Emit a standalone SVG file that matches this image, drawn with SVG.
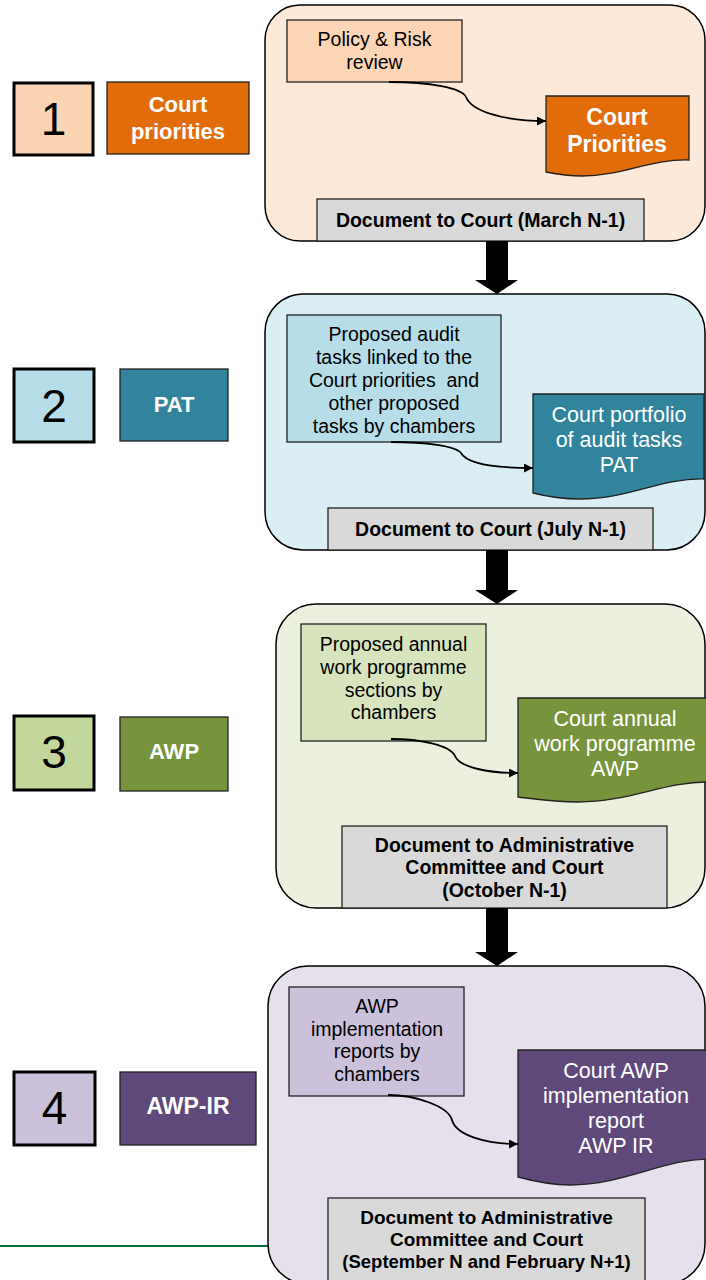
<svg xmlns="http://www.w3.org/2000/svg" width="706" height="1280" viewBox="0 0 706 1280">
  <defs>
    <marker id="arrow" viewBox="0 0 10 10" refX="10" refY="5" markerWidth="10" markerHeight="9" markerUnits="userSpaceOnUse" orient="auto">
      <path d="M0,0 L10,5 L0,10 Z" fill="#000"/>
    </marker>
    <style>
      text { font-family: "Liberation Sans", Arial, sans-serif; text-anchor: middle; }
      .panel { stroke: #000; stroke-width: 1.5; }
      .box { stroke: #222; stroke-width: 1.3; }
      .num { stroke: #000; stroke-width: 3; }
      .tag { stroke: #222; stroke-width: 1.3; }
      .docbox { fill: #D9D9D9; stroke: #222; stroke-width: 1.3; }
      .wave { stroke: #222; stroke-width: 1.3; }
      .t { font-size: 19.5px; fill: #000; }
      .w { font-size: 21.5px; fill: #fff; }
      .wb { font-size: 23px; fill: #fff; font-weight: bold; }
      .b { font-size: 19.5px; fill: #000; font-weight: bold; }
      .digit { font-size: 46px; fill: #000; }
      .link { fill: none; stroke: #000; stroke-width: 1.8; }
      .bigarrow { fill: #000; }
    </style>
  </defs>

  <rect width="706" height="1280" fill="#fff"/>

  <!-- green rule along the bottom left -->
  <line x1="0" y1="1246" x2="270" y2="1246" stroke="#00703C" stroke-width="2"/>

  <!-- Step 1: Court priorities -->
  <g id="step1-number">
    <rect class="num" x="14" y="83" width="79" height="72" fill="#FBD4B4"/>
    <text class="digit" x="53.5" y="135">1</text>
  </g>
  <g id="step1-label">
    <rect class="tag" x="107" y="82" width="142" height="72" fill="#E36C0A"/>
    <text class="wb" x="178" y="112" style="font-size:22px">Court</text>
    <text class="wb" x="178" y="139" style="font-size:22px">priorities</text>
  </g>
  <g id="panel1">
    <rect class="panel" x="265" y="5" width="440" height="236" rx="35" ry="35" fill="#FDE9D9"/>
  </g>
  <g id="policy-risk">
    <rect class="box" x="287" y="20" width="175" height="62" fill="#FBD5B5"/>
    <text class="t" x="374.5" y="46">Policy &amp; Risk</text>
    <text class="t" x="374.5" y="68.5">review</text>
  </g>
  <g id="court-priorities-doc">
    <path class="wave" d="M546,96 H689 V160 C650,159 622,176 582,176 C566,176 556,174 546,172 Z" fill="#E36C0A"/>
    <text class="wb" x="617" y="125">Court</text>
    <text class="wb" x="617" y="152">Priorities</text>
  </g>
  <g id="doc-march">
    <rect class="docbox" x="317" y="199" width="327" height="42"/>
    <text class="b" x="480.5" y="227">Document to Court (March N-1)</text>
  </g>

  <!-- Step 2: PAT -->
  <g id="step2-number">
    <rect class="num" x="14" y="369" width="80" height="73" fill="#B7DDE8"/>
    <text class="digit" x="54" y="422">2</text>
  </g>
  <g id="step2-label">
    <rect class="tag" x="120" y="369" width="108" height="72" fill="#31849B"/>
    <text class="wb" x="174" y="412" style="font-size:22px">PAT</text>
  </g>
  <g id="panel2">
    <rect class="panel" x="265" y="294" width="440" height="256" rx="38" ry="38" fill="#DAEEF3"/>
  </g>
  <g id="proposed-audit-tasks">
    <rect class="box" x="287" y="315" width="214" height="127" fill="#B7DDE8"/>
    <text class="t" x="394" y="341">Proposed audit</text>
    <text class="t" x="394" y="364">tasks linked to the</text>
    <text class="t" x="394" y="387" xml:space="preserve">Court priorities  and</text>
    <text class="t" x="394" y="410">other proposed</text>
    <text class="t" x="394" y="433">tasks by chambers</text>
  </g>
  <g id="court-portfolio-doc">
    <path class="wave" d="M533,394 H704 V479 C660,478 630,499 580,499 C560,499 545,496 533,493 Z" fill="#31849B"/>
    <text class="w" x="619" y="422">Court portfolio</text>
    <text class="w" x="619" y="447">of audit tasks</text>
    <text class="w" x="619" y="472">PAT</text>
  </g>
  <g id="doc-july">
    <rect class="docbox" x="328" y="508" width="325" height="42"/>
    <text class="b" x="490.5" y="536">Document to Court (July N-1)</text>
  </g>

  <!-- Step 3: AWP -->
  <g id="step3-number">
    <rect class="num" x="14" y="716" width="80" height="74" fill="#C3D69B"/>
    <text class="digit" x="54" y="768">3</text>
  </g>
  <g id="step3-label">
    <rect class="tag" x="120" y="717" width="108" height="74" fill="#77933C"/>
    <text class="wb" x="174" y="759" style="font-size:22px">AWP</text>
  </g>
  <g id="panel3">
    <rect class="panel" x="276" y="604" width="429" height="304" rx="40" ry="40" fill="#EBF1DE"/>
  </g>
  <g id="proposed-awp-sections">
    <rect class="box" x="301" y="624" width="185" height="117" fill="#D7E4BD"/>
    <text class="t" x="393.5" y="651">Proposed annual</text>
    <text class="t" x="393.5" y="674">work programme</text>
    <text class="t" x="393.5" y="697">sections by</text>
    <text class="t" x="393.5" y="719">chambers</text>
  </g>
  <g id="court-awp-doc">
    <path class="wave" d="M518,698 H712 V782 C665,781 630,802 578,802 C555,802 535,799 518,797 Z" fill="#77933C"/>
    <text class="w" x="615" y="726">Court annual</text>
    <text class="w" x="615" y="751">work programme</text>
    <text class="w" x="615" y="776">AWP</text>
  </g>
  <g id="doc-october">
    <rect class="docbox" x="342" y="826" width="325" height="82"/>
    <text class="b" x="504.5" y="852">Document to Administrative</text>
    <text class="b" x="504.5" y="874">Committee and Court</text>
    <text class="b" x="504.5" y="897">(October N-1)</text>
  </g>

  <!-- Step 4: AWP-IR -->
  <g id="step4-number">
    <rect class="num" x="14" y="1072" width="81" height="73" fill="#CCC1DA"/>
    <text class="digit" x="54.5" y="1124">4</text>
  </g>
  <g id="step4-label">
    <rect class="tag" x="120" y="1072" width="136" height="73" fill="#5F497A"/>
    <text class="wb" x="188" y="1114">AWP-IR</text>
  </g>
  <g id="panel4">
    <rect class="panel" x="268" y="966" width="437" height="318" rx="40" ry="40" fill="#E5E0EC"/>
  </g>
  <g id="awp-implementation-reports">
    <rect class="box" x="289" y="987" width="175" height="109" fill="#CCC1DA"/>
    <text class="t" x="377" y="1013">AWP</text>
    <text class="t" x="377" y="1036">implementation</text>
    <text class="t" x="377" y="1058">reports by</text>
    <text class="t" x="377" y="1081">chambers</text>
  </g>
  <g id="court-awp-ir-doc">
    <path class="wave" d="M518,1050 H712 V1159 C665,1158 625,1185 570,1185 C550,1185 533,1181 518,1177 Z" fill="#5F497A"/>
    <text class="w" x="616" y="1078">Court AWP</text>
    <text class="w" x="616" y="1103">implementation</text>
    <text class="w" x="616" y="1128">report</text>
    <text class="w" x="616" y="1153">AWP IR</text>
  </g>
  <g id="doc-september">
    <rect class="docbox" x="328" y="1198" width="317" height="90"/>
    <text class="b" x="486.5" y="1224" style="font-size:19px">Document to Administrative</text>
    <text class="b" x="486.5" y="1246" style="font-size:19px">Committee and Court</text>
    <text class="b" x="486.5" y="1268" style="font-size:18.5px">(September N and February N+1)</text>
  </g>

  <!-- connectors -->
  <g id="connectors">
    <path class="link" marker-end="url(#arrow)" d="M389,82 C430,82 462,88 466,97 C471,110 500,121 546,121"/>
    <path class="link" marker-end="url(#arrow)" d="M391,442 C425,442 456,446 461,453 C467,464 495,468 533,468"/>
    <path class="link" marker-end="url(#arrow)" d="M391,739 C420,739 450,745 455,756 C460,768 490,773 518,773"/>
    <path class="link" marker-end="url(#arrow)" d="M388,1095 C415,1095 448,1106 452,1120 C456,1135 485,1144 518,1144"/>
    <polygon class="bigarrow" points="486,241 508,241 508,280 518,280 497,294 475,280 486,280"/>
    <polygon class="bigarrow" points="486,550 508,550 508,590 518,590 497,604 475,590 486,590"/>
    <polygon class="bigarrow" points="486,908 508,908 508,952 518,952 497,966 475,952 486,952"/>
  </g>
</svg>
